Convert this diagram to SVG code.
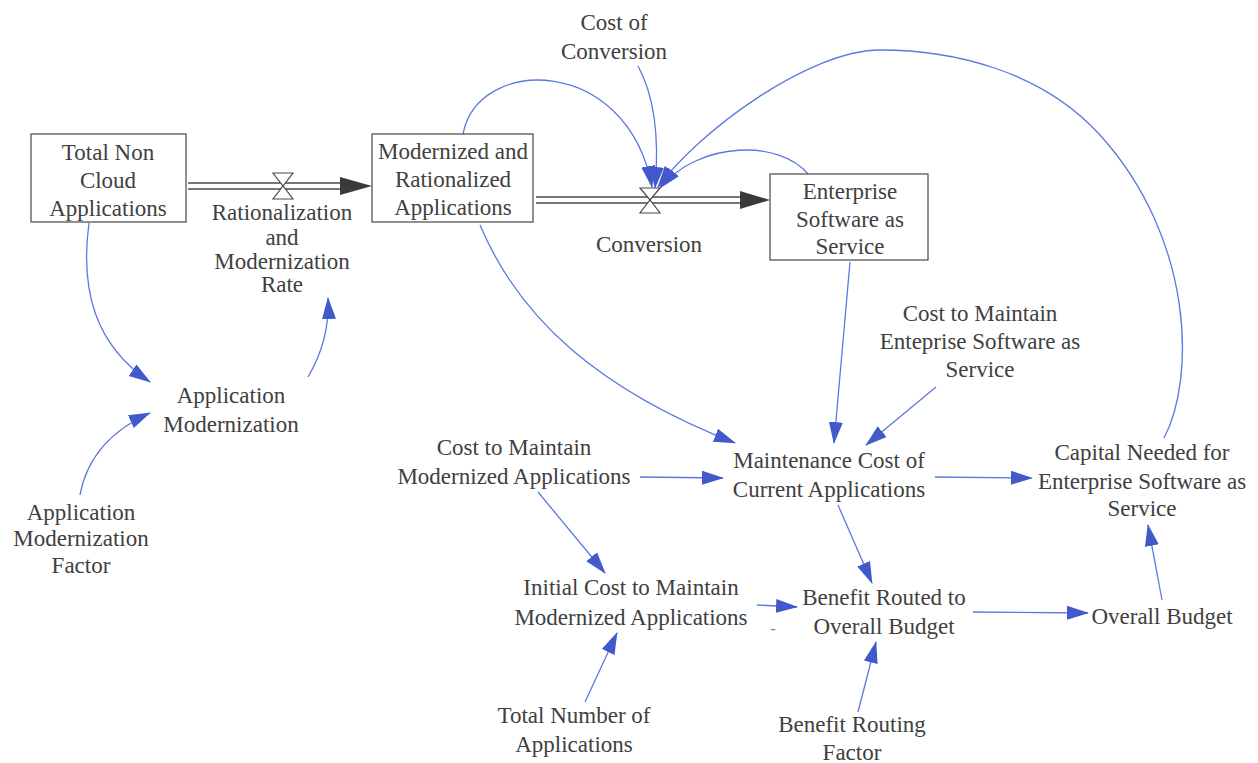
<svg xmlns="http://www.w3.org/2000/svg" width="1258" height="763" viewBox="0 0 1258 763" font-family="'Liberation Serif', 'Times New Roman', Times, serif">
  <style>
    text { font-size: 23px; fill: #404040; text-anchor: middle; }
    .stock { fill: #ffffff; stroke: #555555; stroke-width: 1.3; }
    .pipe { stroke: #4a4a4a; stroke-width: 1.4; fill: none; }
    .valve { fill: #ffffff; stroke: #4a4a4a; stroke-width: 1.2; }
    .flowhead { fill: #3a3a3a; }
    .link { fill: none; stroke: #5b78e2; stroke-width: 1.3; marker-end: url(#arrow); }
  </style>
  <defs>
    <marker id="arrow" markerUnits="userSpaceOnUse" viewBox="0 0 22 16" markerWidth="22" markerHeight="16" refX="21" refY="8" orient="auto">
      <path d="M0,1 L22,8 L0,15 Z" fill="#4259cc"/>
    </marker>
  </defs>

  <rect width="1258" height="763" fill="#ffffff"/>

  <!-- material flows (pipes, valves, heads) -->
  <g id="flows">
    <g id="flow-rationalization">
      <line class="pipe" x1="188" y1="183" x2="344" y2="183"/>
      <line class="pipe" x1="188" y1="189" x2="344" y2="189"/>
      <polygon class="flowhead" points="340,177 372,186 340,195"/>
      <polygon class="valve" points="273,173 293,173 283,186"/>
      <polygon class="valve" points="273,199 293,199 283,186"/>
    </g>
    <g id="flow-conversion">
      <line class="pipe" x1="536" y1="197" x2="744" y2="197"/>
      <line class="pipe" x1="536" y1="203" x2="744" y2="203"/>
      <polygon class="flowhead" points="740,191 770,200 740,209"/>
      <polygon class="valve" points="640,188 660,188 650,200"/>
      <polygon class="valve" points="640,213 660,213 650,200"/>
    </g>
  </g>

  <!-- causal links -->
  <g id="connectors">
    <path class="link" d="M89,223 C80,290 95,345 150,382"/>
    <path class="link" d="M308,377 Q330,340 328,298"/>
    <path class="link" d="M80,495 Q90,440 150,413"/>
    <path class="link" d="M463,134 C478,55 628,55 652,187"/>
    <path class="link" d="M638,66 Q662,110 655,188"/>
    <path class="link" d="M1164,438 C1195,380 1195,240 1100,135 C1040,69 950,50 880,50 C810,50 700,130 658,187"/>
    <path class="link" d="M808,174 C780,140 700,140 660,188"/>
    <path class="link" d="M480,225 C520,320 600,390 735,443"/>
    <path class="link" d="M850,262 L834,443"/>
    <path class="link" d="M936,387 L866,445"/>
    <path class="link" d="M640,477 L723,478"/>
    <path class="link" d="M935,477 L1032,478"/>
    <path class="link" d="M1162,600 L1148,525"/>
    <path class="link" d="M973,612 L1088,613"/>
    <path class="link" d="M838,505 L872,583"/>
    <path class="link" d="M538,492 L605,573"/>
    <path class="link" d="M757,605 L797,607"/>
    <path class="link" d="M585,702 L617,633"/>
    <path class="link" d="M858,712 L876,642"/>
  </g>

  <!-- stocks -->
  <g id="total-non-cloud">
    <rect class="stock" x="31" y="134" width="155" height="88"/>
    <text x="108" y="160">Total Non</text>
    <text x="108" y="188">Cloud</text>
    <text x="108" y="216">Applications</text>
  </g>
  <g id="modernized-rationalized">
    <rect class="stock" x="372" y="134" width="161" height="88"/>
    <text x="453" y="159">Modernized and</text>
    <text x="453" y="187">Rationalized</text>
    <text x="453" y="215">Applications</text>
  </g>
  <g id="enterprise-saas">
    <rect class="stock" x="770" y="174" width="158" height="86"/>
    <text x="850" y="199">Enterprise</text>
    <text x="850" y="227">Software as</text>
    <text x="850" y="254">Service</text>
  </g>

  <!-- flow labels -->
  <g id="rationalization-rate">
    <text x="282" y="220">Rationalization</text>
    <text x="282" y="245">and</text>
    <text x="282" y="269">Modernization</text>
    <text x="282" y="292">Rate</text>
  </g>
  <g id="conversion">
    <text x="649" y="252">Conversion</text>
  </g>

  <!-- auxiliaries -->
  <g id="cost-of-conversion">
    <text x="614" y="30">Cost of</text>
    <text x="614" y="59">Conversion</text>
  </g>
  <g id="application-modernization">
    <text x="231" y="403">Application</text>
    <text x="231" y="432">Modernization</text>
  </g>
  <g id="application-modernization-factor">
    <text x="81" y="520">Application</text>
    <text x="81" y="546">Modernization</text>
    <text x="81" y="573">Factor</text>
  </g>
  <g id="cost-maintain-saas">
    <text x="980" y="321">Cost to Maintain</text>
    <text x="980" y="349">Enteprise Software as</text>
    <text x="980" y="377">Service</text>
  </g>
  <g id="cost-maintain-modernized">
    <text x="514" y="455">Cost to Maintain</text>
    <text x="514" y="484">Modernized Applications</text>
  </g>
  <g id="maintenance-cost">
    <text x="829" y="468">Maintenance Cost of</text>
    <text x="829" y="497">Current Applications</text>
  </g>
  <g id="capital-needed">
    <text x="1142" y="460">Capital Needed for</text>
    <text x="1142" y="489">Enterprise Software as</text>
    <text x="1142" y="516">Service</text>
  </g>
  <g id="initial-cost">
    <text x="631" y="595">Initial Cost to Maintain</text>
    <text x="631" y="625">Modernized Applications</text>
  </g>
  <g id="benefit-routed">
    <text x="884" y="605">Benefit Routed to</text>
    <text x="884" y="634">Overall Budget</text>
  </g>
  <g id="overall-budget">
    <text x="1162" y="624">Overall Budget</text>
  </g>
  <g id="total-number">
    <text x="574" y="723">Total Number of</text>
    <text x="574" y="752">Applications</text>
  </g>
  <g id="benefit-routing-factor">
    <text x="852" y="732">Benefit Routing</text>
    <text x="852" y="760">Factor</text>
  </g>
  <text x="773" y="634" style="font-size:16px; fill:#5b78e2;">-</text>
</svg>
